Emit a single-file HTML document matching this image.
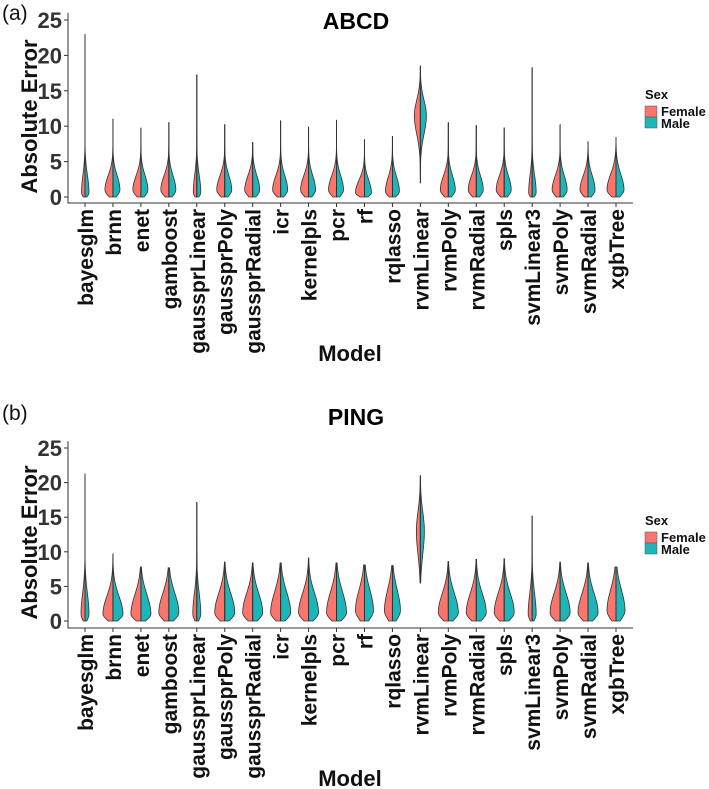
<!DOCTYPE html>
<html><head><meta charset="utf-8">
<style>
body{margin:0;background:#fff;}
svg{display:block;font-family:"Liberation Sans",Arial,sans-serif;}
</style></head>
<body>
<svg id="chart" width="709" height="789" viewBox="0 0 709 789" xmlns="http://www.w3.org/2000/svg"></svg>
<script>
const categories=["bayesglm","brnn","enet","gamboost","gaussprLinear","gaussprPoly","gaussprRadial","icr","kernelpls","pcr","rf","rqlasso","rvmLinear","rvmPoly","rvmRadial","spls","svmLinear3","svmPoly","svmRadial","xgbTree"];
const yTicks=[0,5,10,15,20,25];
// ABCD panel
const abcdMin=[0,0,0,0,0,0,0,0,0,0,0,0,2,0,0,0,0,0,0,0];
const abcdMax=[23,11,9.7,10.5,17.3,10.2,7.7,10.8,9.9,10.8,8.1,8.6,18.5,10.5,10.1,9.8,18.3,10.2,7.8,8.4];
const abcdPeak=[0.6,1,1,1,0.6,1,1,1,1,1,0.6,0.8,11.5,1,1,1,0.6,1,1,1];
const abcdSpread=[2.5,2,2,2,2.5,2,2,2,2,2,1.8,2,2.2,2,2,2,2.5,2,2,2.2];
const abcdFemale=[3.5,8,8,8,3.5,8,8,8,8,8,9,7,6,8,8,8,3.5,8,8,9];
const abcdMale=[4,7,7,7,4,7,7,7,7,7,7,7,6,7,7,7,4,7,7,8];
// PING panel
const pingMin=[0,0,0,0,0,0,0,0,0,0,0,0,5.5,0,0,0,0,0,0,0];
const pingMax=[21.3,9.7,7.8,7.7,17.2,8.5,8.4,8.4,9.1,8.4,8.1,8,21,8.6,8.9,9,15.2,8.5,8.4,7.8];
const pingPeak=[1,1,1,1.2,1,1.2,1.2,1.2,1.2,1.2,1.5,1.5,13,1.2,1.2,1.2,1,1.2,1.2,1.5];
const pingSpread=[3,2.6,2.8,2.8,3,2.8,2.8,3,2.8,3,3,3,2.8,2.8,2.8,2.8,3,2.8,2.8,3];
const pingFemale=[4,10,10,10,4,10,10,10,10,10,9,8,4,10,10,10,4,10,10,9];
const pingMale=[4,10,10,10,4,10,10,10,10,10,9,8,4,10,10,10,4,10,10,9];

const NS="http://www.w3.org/2000/svg";
const svg=document.getElementById('chart');
function mk(tag,attrs,parent){const e=document.createElementNS(NS,tag);for(const k in attrs)e.setAttribute(k,attrs[k]);(parent||svg).appendChild(e);return e;}

function drawPanel(p){
  const g=mk('g',{});
  
  
  const x0=68,x1=633,cx0=85,step=(616-85)/19;
  const xs=i=>cx0+i*step;
  const ys=v=>p.y0-(v/25)*(p.y0-p.y25);
  const ax=mk('path',{d:`M${x0},${ys(26)} V${p.axisY} H${x1}`,stroke:'#333',fill:'none','stroke-width':1},g);
  
  
  yTicks.forEach(t=>{
    mk('line',{x1:x0-4,x2:x0,y1:ys(t),y2:ys(t),stroke:'#333'},g);
    const tx=mk('text',{x:x0-6,y:ys(t)+8,'text-anchor':'end','font-size':22,'font-weight':'bold',fill:'#333'},g);
    tx.textContent=t;
    
    
  });
  categories.forEach((c,i)=>{
    const cx=xs(i);
    mk('line',{x1:cx,x2:cx,y1:p.axisY,y2:p.axisY+4,stroke:'#333'},g);
    const tx=mk('text',{x:0,y:0,transform:`translate(${cx+8},${p.axisY+6}) rotate(-90)`,'text-anchor':'end','font-size':21,'font-weight':'bold',fill:'#111'},g);
    tx.textContent=c;
    
    
    const mn=p.min[i],mx=p.max[i],pk=p.peak[i],sp=p.spread[i];
    const w=(v)=>{const s=v<pk?(pk-mn>3?sp*1.2:Math.max(0.5,(pk-mn)*0.8)):sp;return Math.exp(-0.5*((v-pk)/s)**2);};
    const N=80;const pts=[];
    for(let k=0;k<=N;k++){const v=mn+(mx-mn)*k/N;pts.push([v,w(v)]);}
    const side=(sign,wd)=>{let d=`M${cx},${ys(mn)}`;pts.forEach(([v,ww])=>{d+=` L${(cx+sign*wd*ww).toFixed(2)},${ys(v).toFixed(2)}`;});d+=` L${cx},${ys(mx)} Z`;return d;};
    const f=mk('path',{d:side(-1,p.female[i]),fill:'#F8766D',stroke:'#333','stroke-width':0.8},g);
    
    
    const m=mk('path',{d:side(1,p.male[i]),fill:'#1DB5B8',stroke:'#333','stroke-width':0.8},g);
    
    
    const ln=mk('line',{x1:cx,x2:cx,y1:ys(mn),y2:ys(mx),stroke:'#333','stroke-width':1},g);
    
    
  });
  const yt=mk('text',{x:0,y:0,transform:`translate(37,${(ys(0)+ys(25))/2+8}) rotate(-90)`,'text-anchor':'middle','font-size':22,'font-weight':'bold',fill:'#111'},g);
  yt.textContent='Absolute Error';
  
  
  const xt=mk('text',{x:350,y:p.modelY,'text-anchor':'middle','font-size':22,'font-weight':'bold',fill:'#111'},g);
  xt.textContent='Model';
  
  
  const tt=mk('text',{x:356,y:p.titleY,'text-anchor':'middle','font-size':23,'font-weight':'bold',fill:'#000'},g);
  tt.textContent=p.name;
  
  
  const lb=mk('text',{x:2,y:p.labelY,'font-size':21,fill:'#111'},g);
  lb.textContent=p.label;
  
  
  const lg=mk('g',{},g);
  
  
  const ly=p.legendY;
  const st=mk('text',{x:645,y:ly,'font-size':13,'font-weight':'bold',fill:'#111'},lg);st.textContent='Sex';
  
  
  mk('rect',{x:645,y:ly+7,width:12,height:11,fill:'#F8766D',stroke:'#555','stroke-width':0.5},lg);
  mk('rect',{x:645,y:ly+18,width:12,height:11,fill:'#1DB5B8',stroke:'#555','stroke-width':0.5},lg);
  const fe=mk('text',{x:661,y:ly+17,'font-size':13,'font-weight':'bold',fill:'#111'},lg);fe.textContent='Female';
  
  
  const ma=mk('text',{x:661,y:ly+29,'font-size':13,'font-weight':'bold',fill:'#111'},lg);ma.textContent='Male';
  
  
}
drawPanel({name:'ABCD',label:'(a)',y0:197,y25:20,axisY:203,modelY:361,titleY:29,labelY:20,legendY:99,min:abcdMin,max:abcdMax,peak:abcdPeak,spread:abcdSpread,female:abcdFemale,male:abcdMale});
drawPanel({name:'PING',label:'(b)',y0:621,y25:448,axisY:628,modelY:786,titleY:425,labelY:420,legendY:525,min:pingMin,max:pingMax,peak:pingPeak,spread:pingSpread,female:pingFemale,male:pingMale});
</script>
</body></html>
